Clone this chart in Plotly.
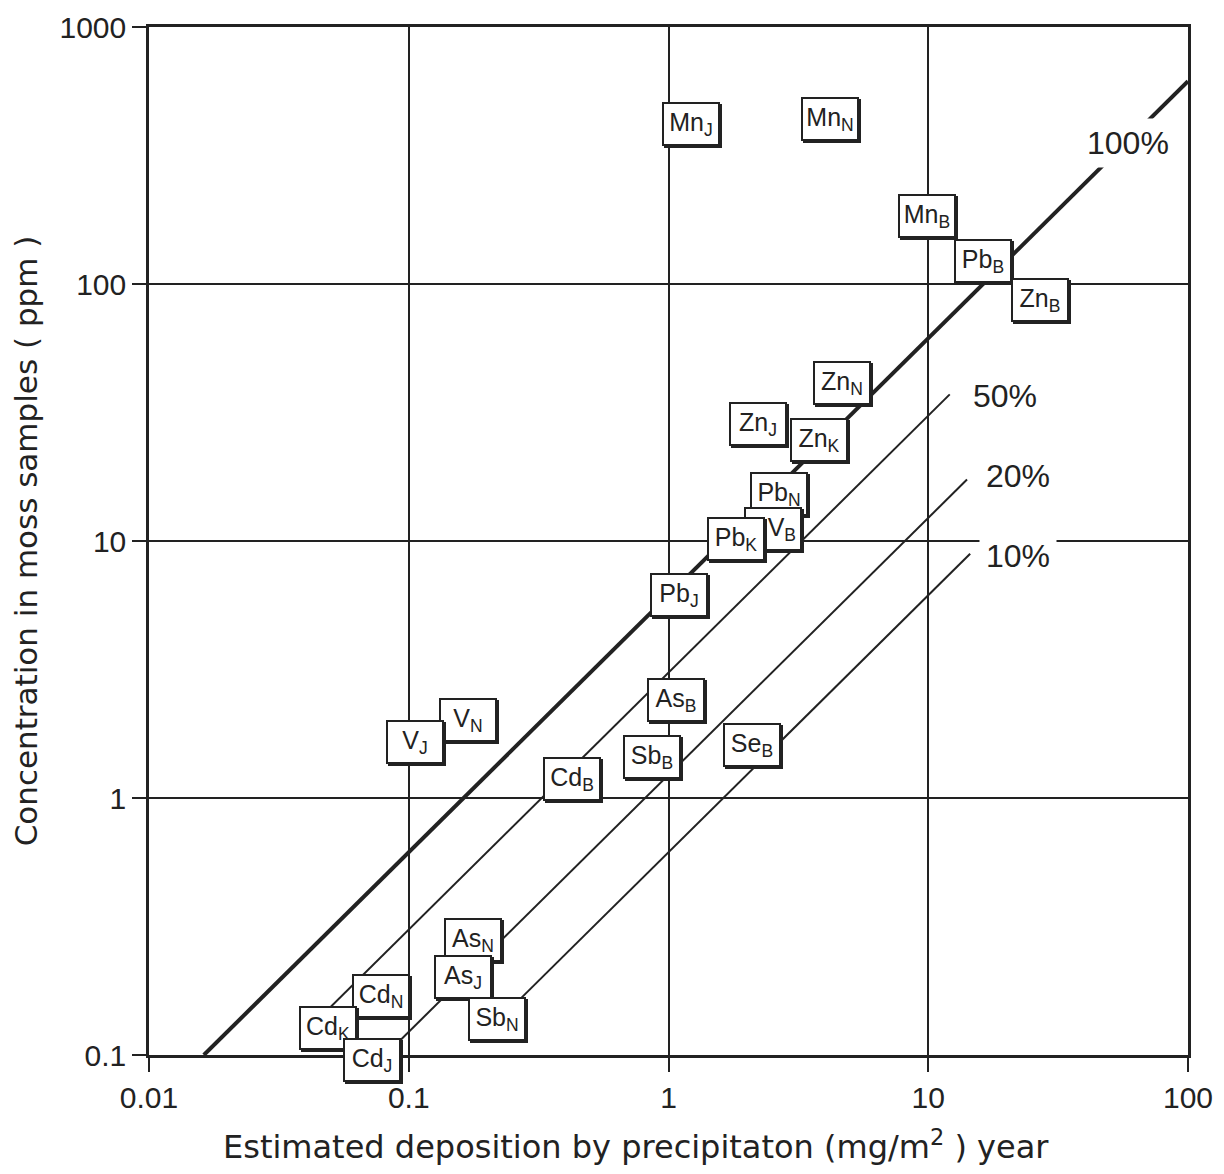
import math
import plotly.graph_objects as go

# ---- data ----
elements = ["Mn", "Mn", "Mn", "Pb", "Zn", "Zn", "Zn", "Zn", "Pb", "V", "Pb", "Pb",
            "As", "Sb", "Se", "Cd", "V", "V", "As", "As", "Sb", "Cd", "Cd", "Cd"]
sites = ["J", "N", "B", "B", "B", "N", "J", "K", "N", "B", "K", "J",
         "B", "B", "B", "B", "N", "J", "N", "J", "N", "N", "K", "J"]
deposition = [1.22, 4.19, 9.89, 16.2, 26.9, 4.66, 2.21, 3.80, 2.66, 2.52, 1.82, 1.10,
              1.07, 0.864, 2.10, 0.425, 0.169, 0.106, 0.177, 0.162, 0.219, 0.0782, 0.0490, 0.0722]
concentration = [419, 438, 184, 123, 86.6, 41.2, 28.5, 24.7, 15.2, 11.1, 10.2, 6.17,
                  2.41, 1.44, 1.61, 1.19, 2.01, 1.65, 0.280, 0.201, 0.138, 0.170, 0.127, 0.0956]

# reference lines: concentration = factor * pct * deposition
line_factor = 6.15
line_pcts = [1.0, 0.5, 0.2, 0.1]
line_names = ["100%", "50%", "20%", "10%"]
line_x_start = [None, 0.045, 0.085, 0.27]   # None -> starts at y axis minimum
line_x_end = [100, 12.1, 14.1, 14.5]
line_widths = [4, 2, 2, 2]
label_x = [58.7, 19.75, 22.2, 22.2]
label_y = [354, 36.7, 17.9, 8.74]

x_ticks = [0.01, 0.1, 1, 10, 100]
x_ticktext = ["0.01", "0.1", "1", "10", "100"]
y_ticks = [0.1, 1, 10, 100, 1000]
y_ticktext = ["0.1", "1", "10", "100", "1000"]

x_title = "Estimated deposition by precipitaton (mg/m<sup>2</sup> ) year"
y_title = "Concentration in moss samples ( ppm )"

FONT = "Liberation Sans, Arial, sans-serif"
TFONT = "DejaVu Sans, sans-serif"
INK = "#222222"
label_align = {"VB": "right"}   # text placement inside a box (style only)

fig = go.Figure()

y_min = y_ticks[0]
for pct, xs, xe, w, name in zip(line_pcts, line_x_start, line_x_end, line_widths, line_names):
    k = line_factor * pct
    if xs is None:
        xs = y_min / k
    fig.add_trace(go.Scatter(x=[xs, xe], y=[k * xs, k * xe], mode="lines",
                             line=dict(color=INK, width=w), name=name,
                             showlegend=False, hoverinfo="skip"))

# figure geometry (page body has an 8px margin)
W, H = 1208, 1158
L, R, T, B = 141, 28, 19, 111
plot_h = H - T - B
decades_y = math.log10(y_ticks[-1]) - math.log10(y_ticks[0])

annotations = []
for el, st, xv, yv in zip(elements, sites, deposition, concentration):
    ya = max(yv, y_min * 1.0001)
    shift = -(math.log10(ya) - math.log10(yv)) * plot_h / decades_y
    txt = f"{el}<sub>{st}</sub>"
    common = dict(x=math.log10(xv), y=math.log10(ya), xref="x", yref="y",
                  showarrow=False, width=46, borderpad=4, borderwidth=2,
                  align=label_align.get(el + st, "center"),
                  font=dict(family=FONT, size=25, color=INK))
    annotations.append(dict(common, text=txt, bgcolor=INK, bordercolor=INK,
                            xshift=2, yshift=shift - 2))
    annotations.append(dict(common, text=txt, bgcolor="white", bordercolor=INK,
                            yshift=shift))

for name, lx, ly in zip(line_names, label_x, label_y):
    annotations.append(dict(x=math.log10(lx), y=math.log10(ly), xref="x", yref="y",
                            text=name, showarrow=False, bgcolor="white", borderpad=6,
                            font=dict(family=FONT, size=32, color=INK)))

# x axis title, placed slightly left of the plot centre as in the reference
annotations.append(dict(x=0.469, y=-0.0875, xref="paper", yref="paper",
                        xanchor="center", yanchor="middle", showarrow=False,
                        text=x_title, font=dict(family=TFONT, size=32, color=INK)))

fig.update_layout(
    width=W, height=H,
    margin=dict(l=L, r=R, t=T, b=B, autoexpand=False),
    paper_bgcolor="white", plot_bgcolor="white",
    showlegend=False,
    annotations=annotations,
    font=dict(family=FONT, color=INK),
)

axis_common = dict(type="log", showgrid=True, gridcolor=INK, gridwidth=2,
                   showline=True, linecolor=INK, linewidth=2.5, mirror=True,
                   ticks="outside", ticklen=14, tickwidth=2, tickcolor=INK,
                   zeroline=False, tickfont=dict(family=FONT, size=30, color=INK))

fig.update_xaxes(axis_common, range=[math.log10(x_ticks[0]), math.log10(x_ticks[-1])],
                 tickvals=x_ticks, ticktext=x_ticktext)
fig.update_yaxes(axis_common, range=[math.log10(y_ticks[0]), math.log10(y_ticks[-1])],
                 tickvals=y_ticks, ticktext=y_ticktext,
                 title=dict(text=y_title,
                            font=dict(family=TFONT, size=31, color=INK), standoff=20))

fig.write_html("out.html")
